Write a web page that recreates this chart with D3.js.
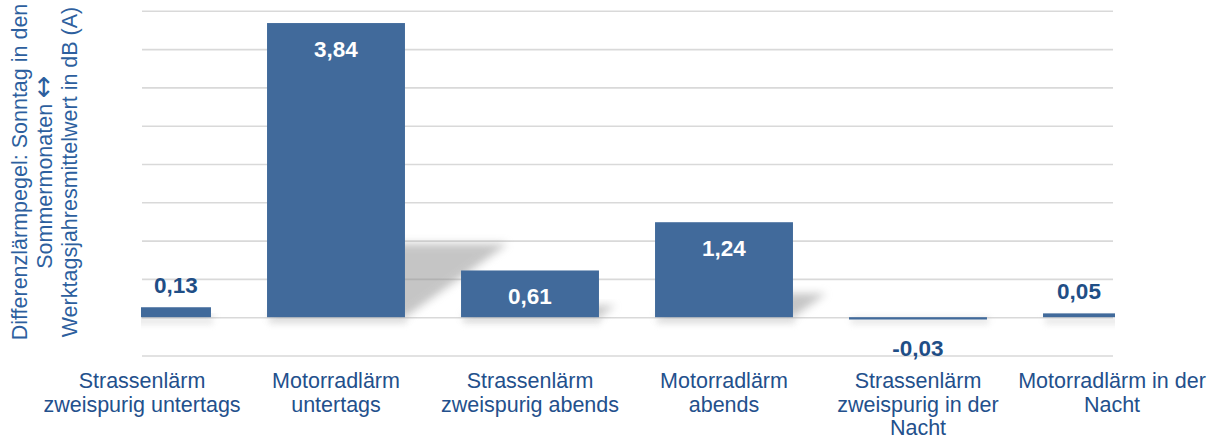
<!doctype html>
<html lang="de">
<head>
  <meta charset="UTF-8">
  <script src="https://cdn.jsdelivr.net/npm/d3@7/dist/d3.min.js"></script>
  <title>Differenzlärmpegel</title>
  <style>
    body{ margin:0; background:#fff; }
    .chart svg{ display:block; font-family:"Liberation Sans", Arial, sans-serif; }
  </style>
</head>
<body>
  <div class="chart"></div>
  <script>
    // data
    const categories = [
      "Strassenlärm\nzweispurig untertags",
      "Motorradlärm\nuntertags",
      "Strassenlärm\nzweispurig abends",
      "Motorradlärm\nabends",
      "Strassenlärm\nzweispurig in der\nNacht",
      "Motorradlärm in der\nNacht"
    ];
    const values = [0.13, 3.84, 0.61, 1.24, -0.03, 0.05];
    const valueLabels = ["0,13", "3,84", "0,61", "1,24", "-0,03", "0,05"];
    const gridTicks = [-0.5, 0, 0.5, 1, 1.5, 2, 2.5, 3, 3.5, 4];
    const yTitle = [["Differenzlärmpegel: Sonntag in den"], ["Sommermonaten ", "\u2194"], ["Werktagsjahresmittelwert in dB (A)"]];

    const W = 1216, H = 441;
    const plot = {left: 141, right: 1115};
    const barColor = '#416a9b';

    const svg = d3.select('.chart').append('svg').attr('width', W).attr('height', H);
    const defs = svg.append('defs');
    defs.append('clipPath').attr('id', 'plotClip')
      .append('rect').attr('x', plot.left).attr('y', 0).attr('width', plot.right - plot.left).attr('height', H);
    defs.append('filter').attr('id', 'blur').attr('x', '-20%').attr('y', '-50%').attr('width', '140%').attr('height', '200%')
      .append('feGaussianBlur').attr('stdDeviation', 4.5);
    defs.append('filter').attr('id', 'blur2').attr('x', '-20%').attr('y', '-100%').attr('width', '140%').attr('height', '300%')
      .append('feGaussianBlur').attr('stdDeviation', 3);

    const y = d3.scaleLinear().domain([-0.5, 4]).range([355.5, 10.8]);
    const x = d3.scaleBand().domain(categories).range([45, 1209]).paddingInner(0.289).paddingOuter(0.1445);

    // gridlines via axis
    const grid = svg.append('g').attr('transform', `translate(${plot.left + 1},0)`)
      .call(d3.axisLeft(y).tickValues(gridTicks).tickSize(-(plot.right - plot.left - 3)).tickFormat(''));
    grid.select('.domain').remove();
    grid.selectAll('.tick line').attr('stroke', '#d9d9d9').attr('stroke-width', 1.6);

    const y0 = y(0);
    const body = svg.append('g').attr('clip-path', 'url(#plotClip)');

    // perspective shadows behind bars
    body.append('g').selectAll('polygon').data(values.map((v, i) => ({v, c: categories[i]})).filter(d => d.v > 0))
      .enter().append('polygon')
      .attr('points', d => {
        const x0 = x(d.c), x1 = x0 + x.bandwidth(), h = y0 - y(d.v);
        return [[x0, y0], [x1, y0], [x1 + 0.35 * h, y0 - 0.25 * h], [x0 + 0.35 * h, y0 - 0.25 * h]].join(' ');
      })
      .attr('fill', '#8c8c8c').attr('opacity', 0.5).attr('filter', 'url(#blur)');
    body.append('g').selectAll('rect').data(categories).enter().append('rect')
      .attr('x', d => x(d) + 2).attr('width', x.bandwidth())
      .attr('y', y0).attr('height', 7)
      .attr('fill', '#bbb').attr('opacity', 0.35).attr('filter', 'url(#blur2)');

    // bars
    body.append('g').selectAll('rect.bar').data(values).enter().append('rect').attr('class', 'bar')
      .attr('x', (d, i) => x(categories[i]))
      .attr('width', x.bandwidth())
      .attr('y', d => y(Math.max(0, d)))
      .attr('height', d => Math.max(2, Math.abs(y(d) - y0)))
      .attr('fill', barColor);

    // value labels (centered on visible part of bar)
    const visCenter = i => {
      const a = Math.max(plot.left, x(categories[i])), b = Math.min(plot.right, x(categories[i]) + x.bandwidth());
      return (a + b) / 2;
    };
    svg.append('g').selectAll('text').data(values).enter().append('text')
      .attr('x', (d, i) => visCenter(i))
      .attr('y', d => {
        const h = Math.abs(y(d) - y0);
        if (d < 0) return y(d) + 37;
        if (h > 40) return y(d) + 34;
        return y(d) - 14;
      })
      .attr('text-anchor', 'middle')
      .attr('font-size', 22.5).attr('font-weight', 'bold')
      .attr('fill', d => (Math.abs(y(d) - y0) > 40 ? '#ffffff' : '#1f4e86'))
      .text((d, i) => valueLabels[i]);

    // category labels
    const cat = svg.append('g').selectAll('text').data(categories).enter().append('text')
      .attr('text-anchor', 'middle').attr('font-size', 21.5).attr('fill', '#23508c')
      .attr('transform', d => `translate(${x(d) + x.bandwidth() / 2},388)`);
    cat.selectAll('tspan').data(d => d.split('\n')).enter().append('tspan')
      .attr('x', 0).attr('y', (d, i) => i * 23.5).text(d => d);

    // y title
    const yt = svg.append('text').attr('transform', 'translate(27,172) rotate(-90)')
      .attr('text-anchor', 'middle').attr('font-size', 21.5).attr('fill', '#2d5f9e');
    yTitle.forEach((parts, i) => {
      const line = yt.append('tspan').attr('x', 0).attr('y', i * 25);
      parts.forEach((p, j) => {
        if (j === 0) line.text(p);
        else yt.append('tspan').attr('font-family', 'DejaVu Sans').attr('font-size', 27).text(p);
      });
    });
  </script>
</body>
</html>
